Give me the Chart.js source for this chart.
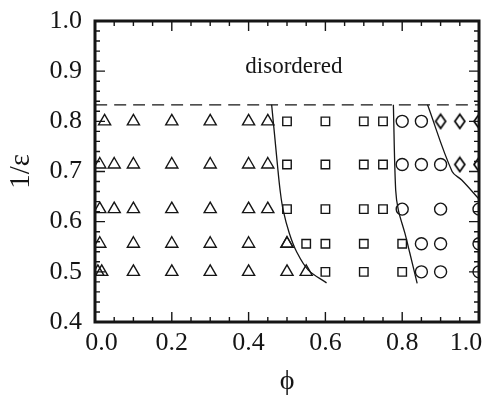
<!DOCTYPE html>
<html lang="en">
<head>
<meta charset="UTF-8">
<title>Phase diagram</title>
<script src="https://cdn.jsdelivr.net/npm/chart.js"></script>
<style>
  html, body { margin: 0; padding: 0; background: #fff; }
</style>
</head>
<body>
<canvas id="myChart" width="487" height="396"></canvas>
<script>
// phi (x) and 1/eps (y) for each phase, read row by row
const triPhi = [0.025, 0.1, 0.2, 0.3, 0.4, 0.45,
                0.0125, 0.05, 0.1, 0.2, 0.3, 0.4, 0.45,
                0.0125, 0.05, 0.1, 0.2, 0.3, 0.4, 0.45,
                0.0125, 0.1, 0.2, 0.3, 0.4, 0.5, 0.5,
                0.0075, 0.0175, 0.1, 0.2, 0.3, 0.4, 0.5, 0.55];
const triEps = [0.8, 0.8, 0.8, 0.8, 0.8, 0.8,
                0.714, 0.714, 0.714, 0.714, 0.714, 0.714, 0.714,
                0.625, 0.625, 0.625, 0.625, 0.625, 0.625, 0.625,
                0.556, 0.556, 0.556, 0.556, 0.556, 0.556, 0.556,
                0.5, 0.5, 0.5, 0.5, 0.5, 0.5, 0.5, 0.5];

const sqPhi = [0.5, 0.6, 0.7, 0.75, 0.5, 0.6, 0.7, 0.75, 0.5, 0.6, 0.7, 0.75, 0.55, 0.6, 0.7, 0.8, 0.6, 0.7, 0.8];
const sqEps = [0.8, 0.8, 0.8, 0.8, 0.714, 0.714, 0.714, 0.714, 0.625, 0.625, 0.625, 0.625, 0.556, 0.556, 0.556, 0.556, 0.5, 0.5, 0.5];

const circPhi = [0.8, 0.85, 0.8, 0.85, 0.9, 0.8, 0.9, 1.0, 0.85, 0.9, 1.0, 0.85, 0.9, 1.0];
const circEps = [0.8, 0.8, 0.714, 0.714, 0.714, 0.625, 0.625, 0.625, 0.556, 0.556, 0.556, 0.5, 0.5, 0.5];

const diaPhi = [0.9, 0.95, 1.0, 0.95, 1.0];
const diaEps = [0.8, 0.8, 0.8, 0.714, 0.714];

// phase boundaries
const b1Phi = [0.46, 0.468, 0.475, 0.482, 0.49, 0.506, 0.525, 0.555, 0.603];
const b1Eps = [0.833, 0.77, 0.714, 0.663, 0.623, 0.577, 0.54, 0.504, 0.478];
const b2Phi = [0.777, 0.783, 0.79, 0.807, 0.82, 0.839];
const b2Eps = [0.833, 0.663, 0.623, 0.577, 0.537, 0.477];
const b3Phi = [0.866, 0.93, 0.955, 1.0];
const b3Eps = [0.833, 0.70, 0.683, 0.645];

const orderPhi = [0, 1];
const orderEps = [0.833, 0.833];

const regionLabel = 'disordered';

const serif = '"Liberation Serif", "Times New Roman", serif';
const ink = '#151515';

function pts(xs, ys) {
    return xs.map((v, i) => ({ x: v, y: ys[i] }));
}

// tall diamond marker
function diamond() {
    const c = document.createElement('canvas');
    c.width = 14; c.height = 18;
    const g = c.getContext('2d');
    g.strokeStyle = '#000';
    g.lineWidth = 1.7;
    g.beginPath();
    g.moveTo(7, 2); g.lineTo(12, 9); g.lineTo(7, 16); g.lineTo(2, 9);
    g.closePath();
    g.stroke();
    return c;
}

function markers(xs, ys, style, r) {
    return {
        data: pts(xs, ys), pointStyle: style, pointRadius: r, pointHoverRadius: r,
        borderColor: ink, backgroundColor: 'rgba(0,0,0,0)', borderWidth: 1.4, clip: 0
    };
}

function curve(xs, ys, dash) {
    return {
        data: pts(xs, ys), showLine: true, pointRadius: 0, borderColor: ink,
        borderWidth: 1.3, tension: 0.35, borderDash: dash || [], clip: 0
    };
}

// frame with inward ticks on all four sides + region label
const frame = {
    id: 'frame',
    afterDatasetsDraw(chart) {
        const { ctx, chartArea: a, scales: { x, y } } = chart;
        ctx.save();
        ctx.strokeStyle = ink;
        ctx.lineWidth = 1.4;
        ctx.beginPath();
        for (let i = 0; i <= 20; i++) {
            const px = x.getPixelForValue(i * 0.05);
            const len = i % 4 === 0 ? 10 : 5;
            ctx.moveTo(px, a.bottom); ctx.lineTo(px, a.bottom - len);
            ctx.moveTo(px, a.top); ctx.lineTo(px, a.top + len);
        }
        for (let i = 0; i <= 30; i++) {
            const py = y.getPixelForValue(0.4 + i * 0.02);
            const len = i % 5 === 0 ? 10 : 5;
            ctx.moveTo(a.left, py); ctx.lineTo(a.left + len, py);
            ctx.moveTo(a.right, py); ctx.lineTo(a.right - len, py);
        }
        ctx.stroke();
        ctx.lineWidth = 3;
        ctx.strokeRect(a.left, a.top, a.right - a.left, a.bottom - a.top);

        ctx.font = '23px ' + serif;
        ctx.fillStyle = ink;
        ctx.textAlign = 'center';
        ctx.textBaseline = 'middle';
        ctx.fillText(regionLabel, x.getPixelForValue(0.518), y.getPixelForValue(0.909));
        ctx.restore();
    }
};

const ctx = document.getElementById('myChart').getContext('2d');
const myChart = new Chart(ctx, {
    type: 'scatter',
    data: {
        datasets: [
            curve(orderPhi, orderEps, [12, 7]),
            curve(b1Phi, b1Eps),
            curve(b2Phi, b2Eps),
            curve(b3Phi, b3Eps),
            markers(triPhi, triEps, 'triangle', 7),
            markers(sqPhi, sqEps, 'rect', 6),
            markers(circPhi, circEps, 'circle', 6),
            markers(diaPhi, diaEps, diamond(), 7)
        ]
    },
    options: {
        responsive: false,
        animation: false,
        events: [],
        layout: { autoPadding: false, padding: { top: 21, right: 8, left: 0, bottom: 0 } },
        plugins: { legend: { display: false }, tooltip: { enabled: false } },
        scales: {
            x: {
                min: 0, max: 1,
                grid: { display: false, drawTicks: false },
                border: { display: false },
                ticks: {
                    stepSize: 0.2, autoSkip: false, maxRotation: 0, padding: 6,
                    color: ink, font: { family: serif, size: 26 },
                    // nudge the end labels inward like the original figure
                    callback: v => {
                        const s = v.toFixed(1);
                        if (v === 0) return '  ' + s;
                        if (v === 1) return s + '    ';
                        return s;
                    }
                },
                title: {
                    display: true, text: 'ϕ', color: ink,
                    font: { family: serif, size: 28, lineHeight: 1 },
                    padding: { top: 0, bottom: 0 }
                },
                // fixed box so the plot area matches the figure
                afterFit: s => { s.height = 74; s.paddingLeft = 0; s.paddingRight = 0; }
            },
            y: {
                min: 0.4, max: 1.0,
                grid: { display: false, drawTicks: false },
                border: { display: false },
                ticks: {
                    stepSize: 0.1, padding: 13, color: ink,
                    font: { family: serif, size: 26 },
                    callback: v => v.toFixed(1)
                },
                title: {
                    display: true, text: '1/ε', color: ink,
                    font: { family: serif, size: 29 },
                    padding: { top: 4, bottom: 0 }
                },
                afterFit: s => { s.width = 95; s.paddingTop = 0; s.paddingBottom = 0; }
            }
        }
    },
    plugins: [frame]
});
</script>
</body>
</html>
